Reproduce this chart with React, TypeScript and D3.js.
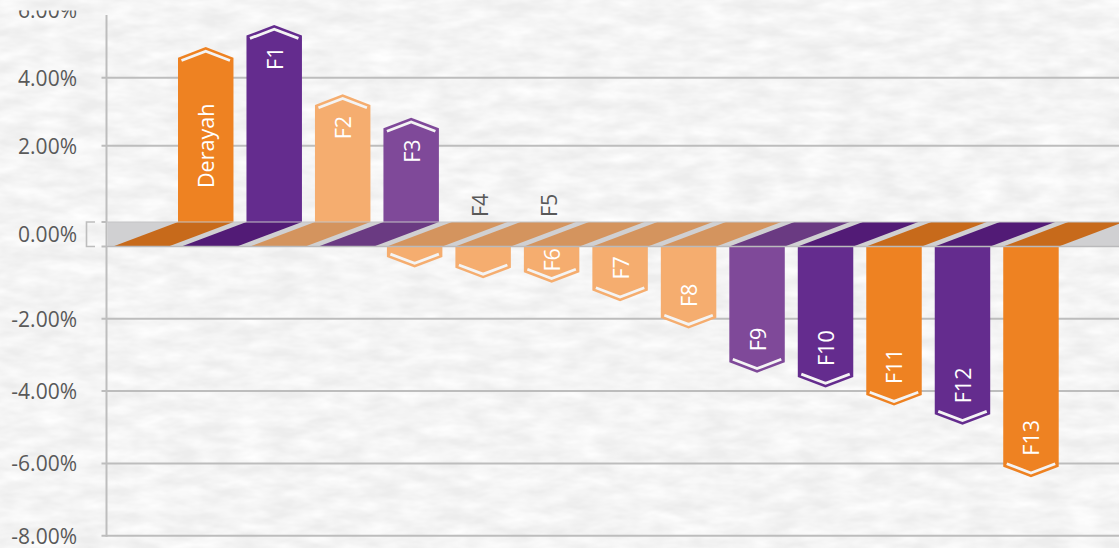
import React, { useEffect } from "react";
import * as d3 from "d3";

// ---------- data ----------
const categories = ["Derayah", "F1", "F2", "F3", "F4", "F5", "F6", "F7", "F8", "F9", "F10", "F11", "F12", "F13"];
const returns = [4.59, 5.24, 3.2, 2.51, -0.29, -0.59, -0.71, -1.22, -1.98, -3.2, -3.61, -4.11, -4.64, -6.09];
const colorGroups = ["orange", "purple", "light", "medium", "light", "light", "light", "light", "light", "medium", "purple", "orange", "purple", "orange"];
const positiveTicks = [2, 4, 6];
const negativeTicks = [-2, -4, -6, -8];
const zeroTick = 0;

// ---------- styling ----------
const W = 1119;
const H = 548;
const palette: Record<string, { bar: string; floor: string }> = {
  orange: { bar: "#EE8222", floor: "#C76A1B" },
  purple: { bar: "#642C8E", floor: "#521B76" },
  light: { bar: "#F5AD6F", floor: "#D4945E" },
  medium: { bar: "#7F4999", floor: "#6A3A82" },
};
const FONT = "'Open Sans', 'Noto Sans', sans-serif";
const AXIS_COLOR = "#BDBDBD";
const TEXT_COLOR = "#595959";
const AXIS_X = 106.5;
const FLOOR_BACK = 222;
const FLOOR_FRONT = 246.5;
const DEPTH_DX = -65;

const x = d3
  .scaleBand<string>()
  .domain(categories)
  .range([178, 1123.7])
  .paddingInner(0.19)
  .paddingOuter(0);
const yPos = d3.scaleLinear().domain([0, 6]).range([213.7, 9.7]);
const yNeg = d3.scaleLinear().domain([-8, 0]).range([535.7, FLOOR_FRONT]);

const fmt = (v: number) => (v < 0 ? "-" : "") + d3.format(".2f")(Math.abs(v)) + "%";

export default function App() {
  useEffect(() => {
    document.body.style.margin = "0";
  }, []);
  const bw = x.bandwidth();
  const tip = bw * 0.19;
  const labelSize = 21.5;
  const charW = labelSize * 0.56;

  const bars = categories.map((c, i) => {
    const v = returns[i];
    const col = palette[colorGroups[i]];
    const pos = v >= 0;
    const left = pos ? (x(c) as number) : (x(c) as number) + DEPTH_DX;
    const right = left + bw;
    const cx = left + bw / 2;
    const ys = pos ? yPos(v) : yNeg(v);
    const inset = 3.5;
    const edgeDrop = (tip * inset) / (bw / 2);
    let path: string;
    let chevron: string;
    if (pos) {
      path = `M${left},${FLOOR_BACK} V${ys} L${cx},${ys - tip} L${right},${ys} V${FLOOR_BACK} Z`;
      chevron = `M${left + inset},${ys - edgeDrop + 4.2} L${cx},${ys - tip + 4.2} L${right - inset},${ys - edgeDrop + 4.2}`;
    } else {
      path = `M${left},${FLOOR_FRONT} V${ys} L${cx},${ys + tip} L${right},${ys} V${FLOOR_FRONT} Z`;
      chevron = `M${left + inset},${ys + edgeDrop - 4.2} L${cx},${ys + tip - 4.2} L${right - inset},${ys + edgeDrop - 4.2}`;
    }
    const textLen = c.length * charW;
    let label: { x: number; y: number; anchor: string; fill: string };
    if (pos) {
      if (c.length > 3) {
        label = { x: cx, y: (ys + 234) / 2, anchor: "middle", fill: "#FFFFFF" };
      } else {
        label = { x: cx, y: ys + 11, anchor: "end", fill: "#FFFFFF" };
      }
    } else {
      const barLen = ys - FLOOR_FRONT;
      if (barLen >= textLen + 1.5) {
        const gap = Math.min(11, barLen - textLen - 1);
        label = { x: cx, y: ys - gap, anchor: "start", fill: "#FFFFFF" };
      } else {
        label = { x: (x(c) as number) + bw / 2, y: FLOOR_BACK - 5, anchor: "start", fill: TEXT_COLOR };
      }
    }
    const xb = x(c) as number;
    const xf = xb + DEPTH_DX;
    const stripe = `M${xf},${FLOOR_FRONT} L${xf + bw},${FLOOR_FRONT} L${xb + bw},${FLOOR_BACK} L${xb},${FLOOR_BACK} Z`;
    return { c, v, pos, col, path, chevron, label, stripe };
  });

  const gridYs = [
    ...positiveTicks.map((t) => ({ t, y: yPos(t) })),
    ...negativeTicks.map((t) => ({ t, y: yNeg(t) })),
  ];

  const renderLabel = (b: any) => (
    <text
      key={"l" + b.c}
      x={b.label.x}
      y={b.label.y}
      transform={`rotate(-90, ${b.label.x}, ${b.label.y})`}
      textAnchor={b.label.anchor}
      dominantBaseline="central"
      fontFamily={FONT}
      fontSize={labelSize}
      fill={b.label.fill}
    >
      {b.c}
    </text>
  );

  return (
    <svg
      width={W}
      height={H}
      viewBox={`0 0 ${W} ${H}`}
      style={{ position: "absolute", left: 0, top: 0, display: "block" }}
    >
      <defs>
        <filter id="paper" x="0" y="0" width={W} height={H} filterUnits="userSpaceOnUse">
          <feTurbulence type="fractalNoise" baseFrequency="0.03 0.08" numOctaves="3" seed="11" />
          <feColorMatrix
            type="matrix"
            values="0 0 0 0 1  0 0 0 0 1  0 0 0 0 1  1.4 0 0 0 -0.3"
          />
        </filter>
        <clipPath id="topclip">
          <rect x={0} y={10.5} width={W} height={H} />
        </clipPath>
      </defs>
      <rect x={0} y={0} width={W} height={H} fill="#EDEDED" />
      <rect x={0} y={0} width={W} height={H} filter="url(#paper)" />

      {/* gridlines */}
      {gridYs
        .filter((g) => g.y >= 15)
        .map((g) => (
          <line key={"g" + g.t} x1={AXIS_X - 5} x2={W} y1={g.y} y2={g.y} stroke={AXIS_COLOR} strokeWidth={2} />
        ))}
      {/* axis line */}
      <line x1={AXIS_X} x2={AXIS_X} y1={15} y2={yNeg(-8) + 1} stroke={AXIS_COLOR} strokeWidth={2} />

      {/* tick labels */}
      <g clipPath="url(#topclip)">
        {gridYs.map((g) => (
          <text
            key={"t" + g.t}
            x={77}
            y={g.y}
            textAnchor="end"
            dominantBaseline="central"
            fontFamily={FONT}
            fontSize={21}
            fill={TEXT_COLOR}
          >
            {fmt(g.t)}
          </text>
        ))}
      </g>
      <text
        x={77}
        y={(FLOOR_BACK + FLOOR_FRONT) / 2}
        textAnchor="end"
        dominantBaseline="central"
        fontFamily={FONT}
        fontSize={21}
        fill={TEXT_COLOR}
      >
        {fmt(zeroTick)}
      </text>
      <path
        d={`M95,${FLOOR_BACK} H86.5 V${FLOOR_FRONT} H95`}
        fill="none"
        stroke={AXIS_COLOR}
        strokeWidth={1.6}
      />
      <line x1={AXIS_X - 5} x2={AXIS_X} y1={FLOOR_BACK} y2={FLOOR_BACK} stroke={AXIS_COLOR} strokeWidth={2} />
      <line x1={AXIS_X - 5} x2={AXIS_X} y1={FLOOR_FRONT} y2={FLOOR_FRONT} stroke={AXIS_COLOR} strokeWidth={2} />

      {/* negative bars (front) */}
      {bars
        .filter((b) => !b.pos)
        .map((b) => (
          <g key={"n" + b.c}>
            <path d={b.path} fill={b.col.bar} />
            <path d={b.chevron} fill="none" stroke="#F4F4F4" strokeWidth={2.8} />
          </g>
        ))}
      {bars.filter((b) => !b.pos && b.label.fill === "#FFFFFF").map(renderLabel)}

      {/* positive bars (back) */}
      {bars
        .filter((b) => b.pos)
        .map((b) => (
          <g key={"p" + b.c}>
            <path d={b.path} fill={b.col.bar} />
            <path d={b.chevron} fill="none" stroke="#F4F4F4" strokeWidth={2.8} />
          </g>
        ))}
      {bars.filter((b) => b.pos).map(renderLabel)}

      {/* floor */}
      <rect x={AXIS_X + 1} y={FLOOR_BACK} width={W - AXIS_X} height={FLOOR_FRONT - FLOOR_BACK} fill="#D0D0D2" />
      {bars.map((b) => (
        <path key={"s" + b.c} d={b.stripe} fill={b.col.floor} />
      ))}
      <line x1={AXIS_X} x2={W} y1={FLOOR_BACK} y2={FLOOR_BACK} stroke="#C4C4C6" strokeWidth={1} />
      <line x1={AXIS_X} x2={W} y1={FLOOR_FRONT} y2={FLOOR_FRONT} stroke="#BABABC" strokeWidth={1.5} />

      {/* outside labels */}
      {bars.filter((b) => !b.pos && b.label.fill !== "#FFFFFF").map(renderLabel)}
    </svg>
  );
}
